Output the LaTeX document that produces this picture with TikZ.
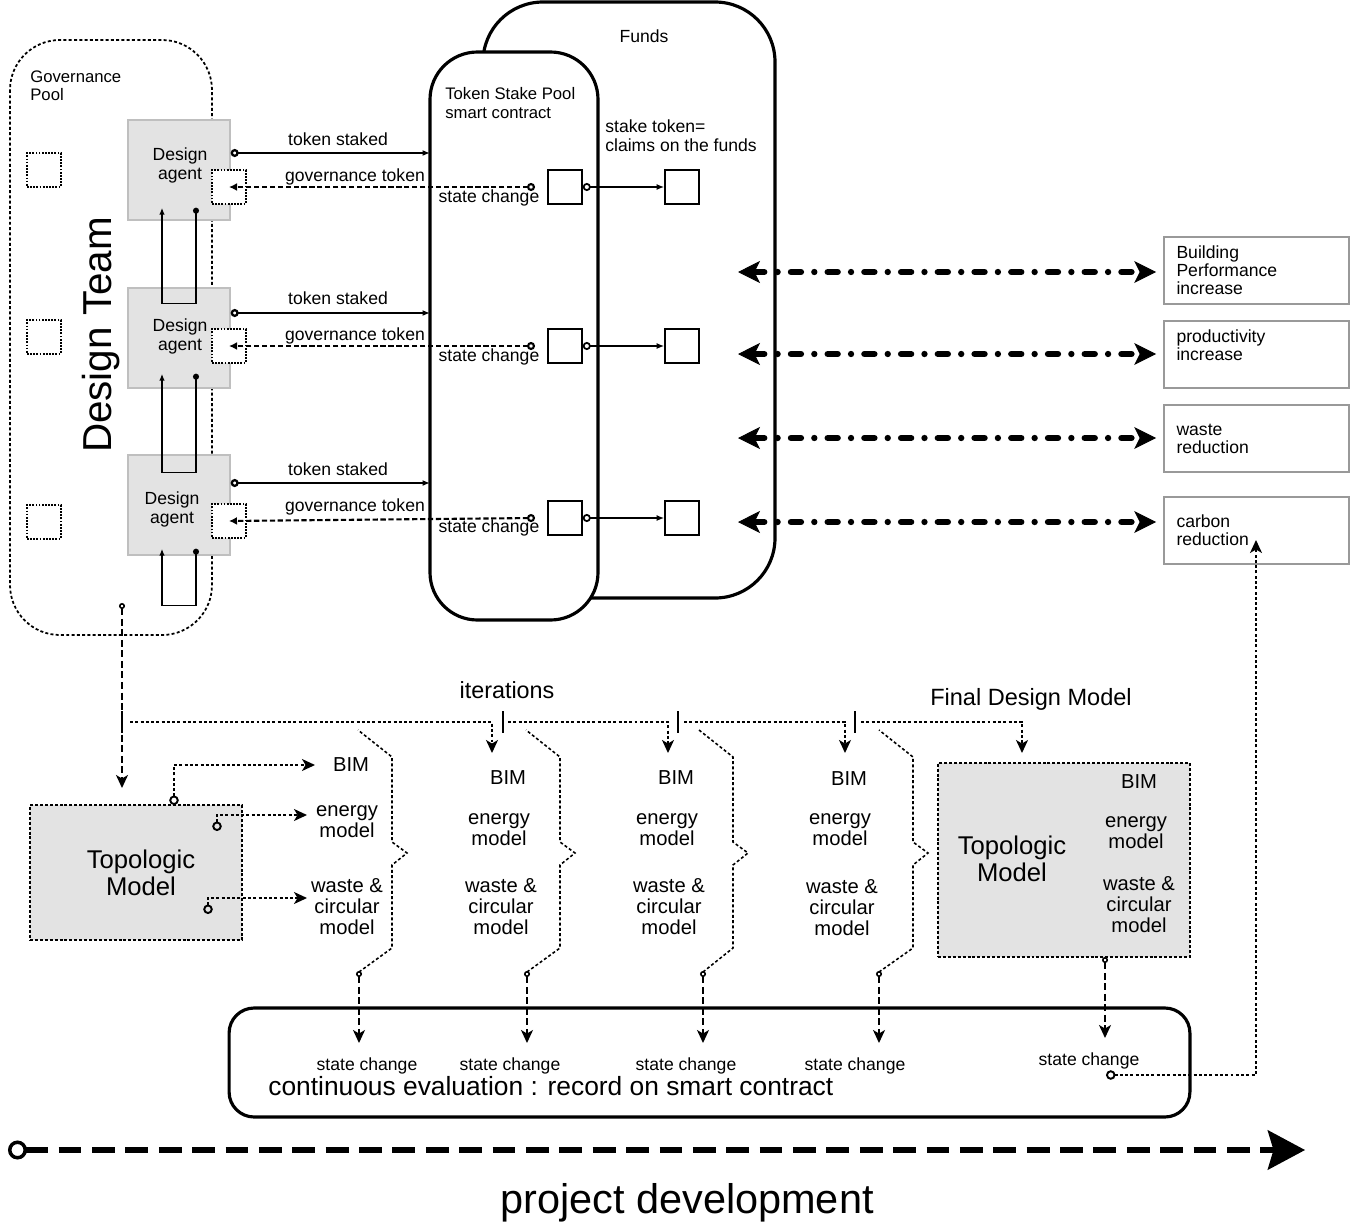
\documentclass[tikz,border=0pt]{standalone}
\usepackage{fontspec}
\setmainfont{Liberation Sans}
\usetikzlibrary{arrows.meta}
\newcommand{\fsz}[2]{\fontsize{#1}{#2}\selectfont}

\begin{document}
\begin{tikzpicture}[x=0.02cm, y=-0.02cm,
  txt/.style={inner sep=0pt, align=center, font=\fsz{10}{10.8}},
  mtxt/.style={inner sep=0pt, align=center, font=\fsz{11.5}{11.8}},
  agent/.style={draw=gray!50, line width=0.8pt, fill=gray!22, minimum width=2.04cm, minimum height=2cm, inner sep=0pt},
  slot/.style={draw, fill=white, line width=0.7pt, dash pattern=on 1pt off 0.8pt, minimum size=0.68cm, inner sep=0pt},
  sq/.style={draw, line width=0.9pt, fill=white, minimum size=0.68cm, inner sep=0pt},
  goal/.style={draw=gray!80, line width=1pt, minimum width=3.7cm, minimum height=1.34cm, text width=3.2cm, align=left, inner sep=0pt, font=\fsz{10}{10.3}},
  model/.style={draw, fill=gray!22, line width=0.9pt, dash pattern=on 1.7pt off 1.1pt, inner sep=0pt},
  pool/.style={draw, line width=1.8pt, fill=white},
  dots/.style={line width=0.9pt, dash pattern=on 1.7pt off 1.3pt},
  dsh/.style={line width=0.9pt, dash pattern=on 4pt off 2pt},
  tip/.style={-{Stealth[length=2.6mm,width=2.4mm,inset=0.7mm]}},
  rt/.style={{Circle[open,length=1.9mm,width=1.9mm,line width=1.1pt]}-{Stealth[length=2.6mm,width=2.4mm,inset=0.7mm]}},
  st/.style={{Circle[open,length=1.2mm,width=1.2mm]}-{Stealth[length=2.6mm,width=2.4mm,inset=0.7mm]}},
  stake/.style={line width=1.3pt, {Circle[open,length=1.6mm,width=1.6mm]}-{Latex[length=1.5mm,width=1.2mm]}},
  gov/.style={line width=1.2pt, dash pattern=on 3pt off 1.5pt, {Circle[open,length=1.6mm,width=1.6mm]}-{Latex[length=1.6mm,width=1.6mm]}},
  fund/.style={line width=1pt, {Circle[open,length=1.6mm,width=1.6mm]}-{Latex[length=1.5mm,width=1.2mm]}},
  uloop/.style={line width=0.8pt, {Circle[length=1.2mm]}-{Latex[length=1.4mm,width=1.1mm]}},
  duo/.style={line width=3.6pt, line cap=round, dash pattern=on 5.7pt off 7.6pt on 0pt off 7.6pt,
    {Stealth[length=4.4mm,width=4.4mm,inset=1.1mm,line width=0.5pt]}-{Stealth[length=4.4mm,width=4.4mm,inset=1.1mm,line width=0.5pt]}}]
\useasboundingbox (0,0) rectangle (1359,1227);

\draw[dots, line width=1pt, rounded corners=1cm] (10,40) rectangle (212,635);
\node[inner sep=0pt, align=left, anchor=west, font=\fsz{9.5}{10.5}] (gp) at (30,86) {Governance\\Pool};
\node[rotate=90, inner sep=0pt, font=\fsz{23}{25}] (dt) at (101,335) {Design Team};

\draw[pool, rounded corners=1.2cm] (483,598) -- (483,2) -- (775,2) -- (775,598) -- cycle;
\draw[pool, rounded corners=0.95cm] (430,52) rectangle (598,620);
\node[txt] (fn) at (644,36) {Funds};
\node[txt, align=left, anchor=west, font=\fsz{9.5}{10.3}] (tsp) at (445,103) {Token Stake Pool\\smart contract};
\node[txt, align=left, anchor=west] (stk) at (605,136) {stake token=\\claims on the funds};

\node[agent] (a1) at (179,170) {};
\node[agent] (a2) at (179,338) {};
\node[agent] (a3) at (179,505) {};
\node[txt] (d1) at (180,165) {Design\\agent};
\node[txt] (d2) at (180,336) {Design\\agent};
\node[txt] (d3) at (172,509) {Design\\agent};

\node[slot] (l1) at (44,170) {};
\node[slot] (l2) at (44,337) {};
\node[slot] (l3) at (44,522) {};
\node[slot] (g1) at (229,187) {};
\node[slot] (g2) at (229,346) {};
\node[slot] (g3) at (229,521) {};

\draw[uloop] ([shift={(17,-13)}]a1.south) -- ++(0,96) -| ([shift={(-17,-13)}]a1.south);
\draw[uloop] ([shift={(17,-15)}]a2.south) -- ++(0,99) -| ([shift={(-17,-15)}]a2.south);
\draw[uloop] ([shift={(17,-7)}]a3.south) -- ++(0,57) -| ([shift={(-17,-7)}]a3.south);

\node[sq] (p1) at (565,187) {};
\node[sq] (p2) at (565,346) {};
\node[sq] (p3) at (565,518) {};
\node[sq] (f1) at (682,187) {};
\node[sq] (f2) at (682,346) {};
\node[sq] (f3) at (682,518) {};
\draw[fund] (p1.east) -- (f1.west);
\draw[fund] (p2.east) -- (f2.west);
\draw[fund] (p3.east) -- (f3.west);

\coordinate (k1) at (430,153);
\coordinate (k2) at (430,313);
\coordinate (k3) at (430,483);
\draw[stake] (a1.east |- k1) -- (k1);
\draw[stake] (a2.east |- k2) -- (k2);
\draw[stake] (a3.east |- k3) -- (k3);
\node[txt] (ks1) at (338,139) {token staked};
\node[txt] (ks2) at (338,298) {token staked};
\node[txt] (ks3) at (338,469) {token staked};

\coordinate (c1) at (535,187);
\coordinate (c2) at (535,346);
\coordinate (c3) at (535,518);
\draw[gov] (c1) -- (g1.center);
\draw[gov] (c2) -- (g2.center);
\draw[gov] (c3) -- (g3.center);
\node[txt] (gt1) at (355,177) {governance token};
\node[txt] (gt2) at (355,336) {governance token};
\node[txt] (gt3) at (355,507) {governance token};
\node[txt] (sc1) at (489,198) {state change};
\node[txt] (sc2) at (489,357) {state change};
\node[txt] (sc3) at (489,528) {state change};

\node[goal] (b1) at (1256.5,270.5) {Building\\Performance\\increase};
\node[goal] (b2) at (1256.5,354.5) {productivity\\increase\\\mbox{}};
\node[goal] (b3) at (1256.5,438.5) {waste\\reduction};
\node[goal] (b4) at (1256.5,530.5) {carbon\\reduction};
\coordinate (e1) at (738,272);
\coordinate (e2) at (738,354);
\coordinate (e3) at (738,438);
\coordinate (e4) at (738,522);
\draw[duo, shorten >=0.14cm] (e1) -- (b1.west |- e1);
\draw[duo, shorten >=0.14cm] (e2) -- (b2.west |- e2);
\draw[duo, shorten >=0.14cm] (e3) -- (b3.west |- e3);
\draw[duo, shorten >=0.14cm] (e4) -- (b4.west |- e4);

\coordinate (gv) at (122,603);
\draw[dsh, st] (gv) -- (122,788);
\foreach \x in {122,503,678,855} \draw[line width=1.2pt] (\x,711) -- (\x,733);
\draw[dots, tip] (130,722) -| (492,753);
\draw[dots, tip] (508,722) -| (668,753);
\draw[dots, tip] (684,722) -| (845,753);
\draw[dots, tip] (861,722) -| (1022,753);
\node[txt, font=\fsz{13.3}{14}] (it) at (507,690) {iterations};
\node[txt, font=\fsz{13.4}{14}] (fdm) at (1031,699) {Final Design Model};

\node[model, minimum width=4.24cm, minimum height=2.7cm] (m0) at (136,872.5) {};
\node[inner sep=0pt, align=center, font=\fsz{14.6}{15.3}] (tm0) at (141,873) {Topologic\\Model};
\draw[dots, rt] (174,805) |- (315,765);
\draw[dots, rt] (217,831) |- (307,815);
\draw[dots, rt] (208,914) |- (307,898);

\node[mtxt] (bim1) at (351,765) {BIM};
\node[mtxt] (en1) at (347,822) {energy\\model};
\node[mtxt, font=\fsz{11.5}{12}] (wc1) at (347,907) {waste \&\\circular\\model};
\node[mtxt] (bim2) at (508,778) {BIM};
\node[mtxt] (en2) at (499,830) {energy\\model};
\node[mtxt, font=\fsz{11.5}{12}] (wc2) at (501,907) {waste \&\\circular\\model};
\node[mtxt] (bim3) at (676,778) {BIM};
\node[mtxt] (en3) at (667,830) {energy\\model};
\node[mtxt, font=\fsz{11.5}{12}] (wc3) at (669,907) {waste \&\\circular\\model};
\node[mtxt] (bim4) at (849,779) {BIM};
\node[mtxt] (en4) at (840,830) {energy\\model};
\node[mtxt, font=\fsz{11.5}{12}] (wc4) at (842,908) {waste \&\\circular\\model};

\foreach \vx/\ax in {392/359,560/527,733/703,913/879} {
  \draw[dots] (\ax,972) -- (\vx,948) -- (\vx,865) -- (\vx+15,853) -- (\vx,842) -- (\vx,757) -- (\vx-34,730);
  \draw[dsh, st] (\ax,971) -- (\ax,1043);
}

\node[model, minimum width=5.04cm, minimum height=3.88cm] (fm) at (1064,860) {};
\node[inner sep=0pt, align=center, font=\fsz{14.6}{15.3}] (tm) at (1012,859) {Topologic\\Model};
\node[mtxt] (bim5) at (1139,782) {BIM};
\node[mtxt] (en5) at (1136,833) {energy\\model};
\node[mtxt, font=\fsz{11.5}{12}] (wc5) at (1139,905) {waste \&\\circular\\model};
\draw[dsh, st] (1105,957) -- (1105,1038);

\node[draw, line width=1.8pt, rounded corners=0.5cm, minimum width=19.22cm, minimum height=2.18cm, inner sep=0pt] (ev) at (709.5,1062.5) {};
\node[inner sep=0pt, anchor=west, font=\fsz{15}{16}] (ce) at (268,1086) {continuous evaluation : record on smart contract};
\node[txt] (s1) at (367,1066) {state change};
\node[txt] (s2) at (510,1066) {state change};
\node[txt] (s3) at (686,1066) {state change};
\node[txt] (s4) at (855,1066) {state change};
\node[txt] (s5) at (1089,1061) {state change};
\coordinate (cr) at (1256,540);
\draw[dots, rt] (1106,1075) -| (cr);

\draw[line width=3.8pt, dash pattern=on 13pt off 6pt, {Circle[open,length=3.8mm,width=3.8mm,line width=2pt]}-{Stealth[length=7.5mm,width=8mm,inset=1.2mm,line width=1pt]}] (8,1150) -- (1305,1150);
\node[inner sep=0pt, font=\fsz{23.6}{26}] (pd) at (687,1203) {project development};
\end{tikzpicture}
\end{document}
